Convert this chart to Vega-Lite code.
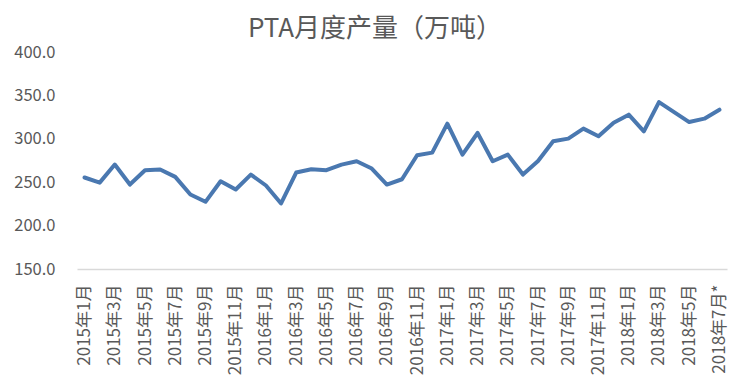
{
  "$schema": "https://vega.github.io/schema/vega-lite/v6.json",
  "width": 650,
  "height": 217,
  "autosize": "none",
  "padding": {"left": 77, "top": 52, "right": 24, "bottom": 119},
  "background": "white",
  "title": {
    "text": "PTA月度产量（万吨）",
    "font": "Noto Sans CJK SC",
    "fontSize": 26,
    "fontWeight": "normal",
    "color": "#595959",
    "anchor": "middle",
    "dx": -27,
    "offset": 2
  },
  "data": {
    "values": [
      {"月份": "2015年1月", "产量": 255.4},
      {"月份": "2015年2月", "产量": 249.5},
      {"月份": "2015年3月", "产量": 270.3},
      {"月份": "2015年4月", "产量": 247.3},
      {"月份": "2015年5月", "产量": 263.8},
      {"月份": "2015年6月", "产量": 264.6},
      {"月份": "2015年7月", "产量": 256.1},
      {"月份": "2015年8月", "产量": 235.8},
      {"月份": "2015年9月", "产量": 227.4},
      {"月份": "2015年10月", "产量": 251.1},
      {"月份": "2015年11月", "产量": 241.6},
      {"月份": "2015年12月", "产量": 258.8},
      {"月份": "2016年1月", "产量": 246.2},
      {"月份": "2016年2月", "产量": 225.5},
      {"月份": "2016年3月", "产量": 261.1},
      {"月份": "2016年4月", "产量": 264.9},
      {"月份": "2016年5月", "产量": 263.8},
      {"月份": "2016年6月", "产量": 270.3},
      {"月份": "2016年7月", "产量": 274.1},
      {"月份": "2016年8月", "产量": 265.7},
      {"月份": "2016年9月", "产量": 247.3},
      {"月份": "2016年10月", "产量": 253.4},
      {"月份": "2016年11月", "产量": 281.0},
      {"月份": "2016年12月", "产量": 284.1},
      {"月份": "2017年1月", "产量": 317.4},
      {"月份": "2017年2月", "产量": 281.8},
      {"月份": "2017年3月", "产量": 306.7},
      {"月份": "2017年4月", "产量": 274.1},
      {"月份": "2017年5月", "产量": 281.8},
      {"月份": "2017年6月", "产量": 258.8},
      {"月份": "2017年7月", "产量": 274.5},
      {"月份": "2017年8月", "产量": 297.1},
      {"月份": "2017年9月", "产量": 300.2},
      {"月份": "2017年10月", "产量": 311.7},
      {"月份": "2017年11月", "产量": 302.9},
      {"月份": "2017年12月", "产量": 318.6},
      {"月份": "2018年1月", "产量": 327.8},
      {"月份": "2018年2月", "产量": 308.6},
      {"月份": "2018年3月", "产量": 342.3},
      {"月份": "2018年4月", "产量": 330.8},
      {"月份": "2018年5月", "产量": 319.3},
      {"月份": "2018年6月", "产量": 323.2},
      {"月份": "2018年7月*", "产量": 333.5}
    ]
  },
  "mark": {"type": "line", "color": "#4a78b0", "strokeWidth": 4, "strokeJoin": "round", "strokeCap": "round"},
  "encoding": {
    "x": {
      "field": "月份",
      "type": "ordinal",
      "sort": null,
      "scale": {"type": "point", "padding": 0.5},
      "axis": {
        "title": null,
        "values": ["2015年1月", "2015年3月", "2015年5月", "2015年7月", "2015年9月", "2015年11月", "2016年1月", "2016年3月", "2016年5月", "2016年7月", "2016年9月", "2016年11月", "2017年1月", "2017年3月", "2017年5月", "2017年7月", "2017年9月", "2017年11月", "2018年1月", "2018年3月", "2018年5月", "2018年7月*"],
        "labelAngle": -90,
        "labelAlign": "right",
        "labelBaseline": "middle",
        "labelFont": "Noto Sans CJK SC",
        "labelFontSize": 17,
        "labelColor": "#595959",
        "labelPadding": 15,
        "ticks": false,
        "domainColor": "#d9d9d9",
        "domainWidth": 1.5,
        "grid": false
      }
    },
    "y": {
      "field": "产量",
      "type": "quantitative",
      "scale": {"domain": [150, 400], "nice": false, "zero": false},
      "axis": {
        "title": null,
        "values": [150, 200, 250, 300, 350, 400],
        "format": ".1f",
        "labelFont": "Noto Sans CJK SC",
        "labelFontSize": 16.5,
        "labelColor": "#595959",
        "labelPadding": 22,
        "ticks": false,
        "domain": false,
        "grid": false
      }
    }
  },
  "config": {"view": {"stroke": null}}
}
